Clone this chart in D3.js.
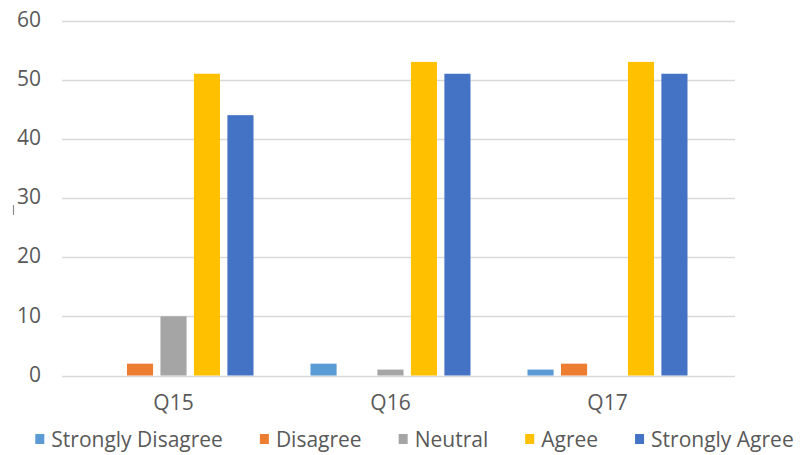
<!DOCTYPE html>
<html>
<head>
<meta charset="utf-8">
<script src="https://cdn.jsdelivr.net/npm/d3@7"></script>
<style>
  html, body { margin: 0; padding: 0; background: #fff; }
  svg { display: block; font-family: "Open Sans", "Noto Sans", sans-serif; }
</style>
</head>
<body>
<svg id="chart" width="800" height="455"></svg>
<script>
// Survey responses per question
const questions = ["Q15", "Q16", "Q17"];
const responses = ["Strongly Disagree", "Disagree", "Neutral", "Agree", "Strongly Agree"];
const stronglyDisagree = [0, 2, 1];
const disagree = [2, 0, 2];
const neutral = [10, 1, 0];
const agree = [51, 53, 53];
const stronglyAgree = [44, 51, 51];
const yTicks = [0, 10, 20, 30, 40, 50, 60];
const colors = ["#5B9BD5", "#ED7D31", "#A5A5A5", "#FFC000", "#4472C4"];

const seriesValues = [stronglyDisagree, disagree, neutral, agree, stronglyAgree];
const rows = questions.map((q, i) => ({
  q,
  values: responses.map((r, k) => ({ key: r, value: seriesValues[k][i] }))
}));

const svg = d3.select("#chart");
const textColor = "#595959";
const fontSize = 21;

const gridLeft = 62, gridRight = 735;
const y = d3.scaleLinear().domain([0, 60]).range([375.5, 20.5]);
const x0 = d3.scaleBand().domain(questions).range([65, 716]).padding(0);
const x1 = d3.scaleBand().domain(responses)
  .range([28.5, 188.5]).paddingInner(0.22).paddingOuter(0);

// Horizontal gridlines
svg.append("g")
  .selectAll("line")
  .data(yTicks)
  .join("line")
  .attr("x1", gridLeft).attr("x2", gridRight)
  .attr("y1", d => Math.round(y(d)) + 0.5).attr("y2", d => Math.round(y(d)) + 0.5)
  .attr("stroke", "#d9d9d9").attr("stroke-width", 1.5);

// Y axis labels
const yAxis = d3.axisLeft(y).tickValues(yTicks).tickSize(0).tickPadding(0);
const gy = svg.append("g").attr("transform", "translate(41,-1)").call(yAxis);
gy.select(".domain").remove();
gy.selectAll("text")
  .attr("fill", textColor).attr("font-size", fontSize)
  .attr("font-family", "'Open Sans', 'Noto Sans', sans-serif");

// Bars
const groups = svg.append("g")
  .selectAll("g")
  .data(rows)
  .join("g")
  .attr("transform", d => `translate(${x0(d.q)},0)`);

groups.selectAll("rect")
  .data(d => d.values)
  .join("rect")
  .attr("x", d => x1(d.key))
  .attr("width", x1.bandwidth())
  .attr("y", d => y(d.value))
  .attr("height", d => y(0) - y(d.value))
  .attr("fill", (d, i) => colors[i]);

// X axis labels
const xAxis = d3.axisBottom(x0).tickSize(0).tickPadding(0);
const gx = svg.append("g").attr("transform", "translate(0,395)").call(xAxis);
gx.select(".domain").remove();
gx.selectAll("text")
  .attr("fill", textColor).attr("font-size", fontSize)
  .attr("font-family", "'Open Sans', 'Noto Sans', sans-serif");

// Small stray mark at the left edge
svg.append("line")
  .attr("x1", 13.5).attr("x2", 13.5).attr("y1", 205).attr("y2", 215)
  .attr("stroke", "#8c8c8c").attr("stroke-width", 1.2);

// Legend, laid out from measured text widths and centred
const legend = svg.append("g").attr("transform", "translate(0,447)");
const items = legend.selectAll("g")
  .data(responses)
  .join("g");
items.append("rect")
  .attr("width", 9).attr("height", 10)
  .attr("y", -13)
  .attr("fill", (d, i) => colors[i]);
items.append("text")
  .attr("x", 16)
  .attr("fill", textColor).attr("font-size", fontSize)
  .text(d => d);

const gap = 37;
let widths = [];
items.each(function () {
  widths.push(16 + d3.select(this).select("text").node().getComputedTextLength());
});
const total = d3.sum(widths) + gap * (widths.length - 1);
let cx = 414.5 - total / 2;
items.each(function (d, i) {
  d3.select(this).attr("transform", `translate(${cx},0)`);
  cx += widths[i] + gap;
});
</script>
</body>
</html>
